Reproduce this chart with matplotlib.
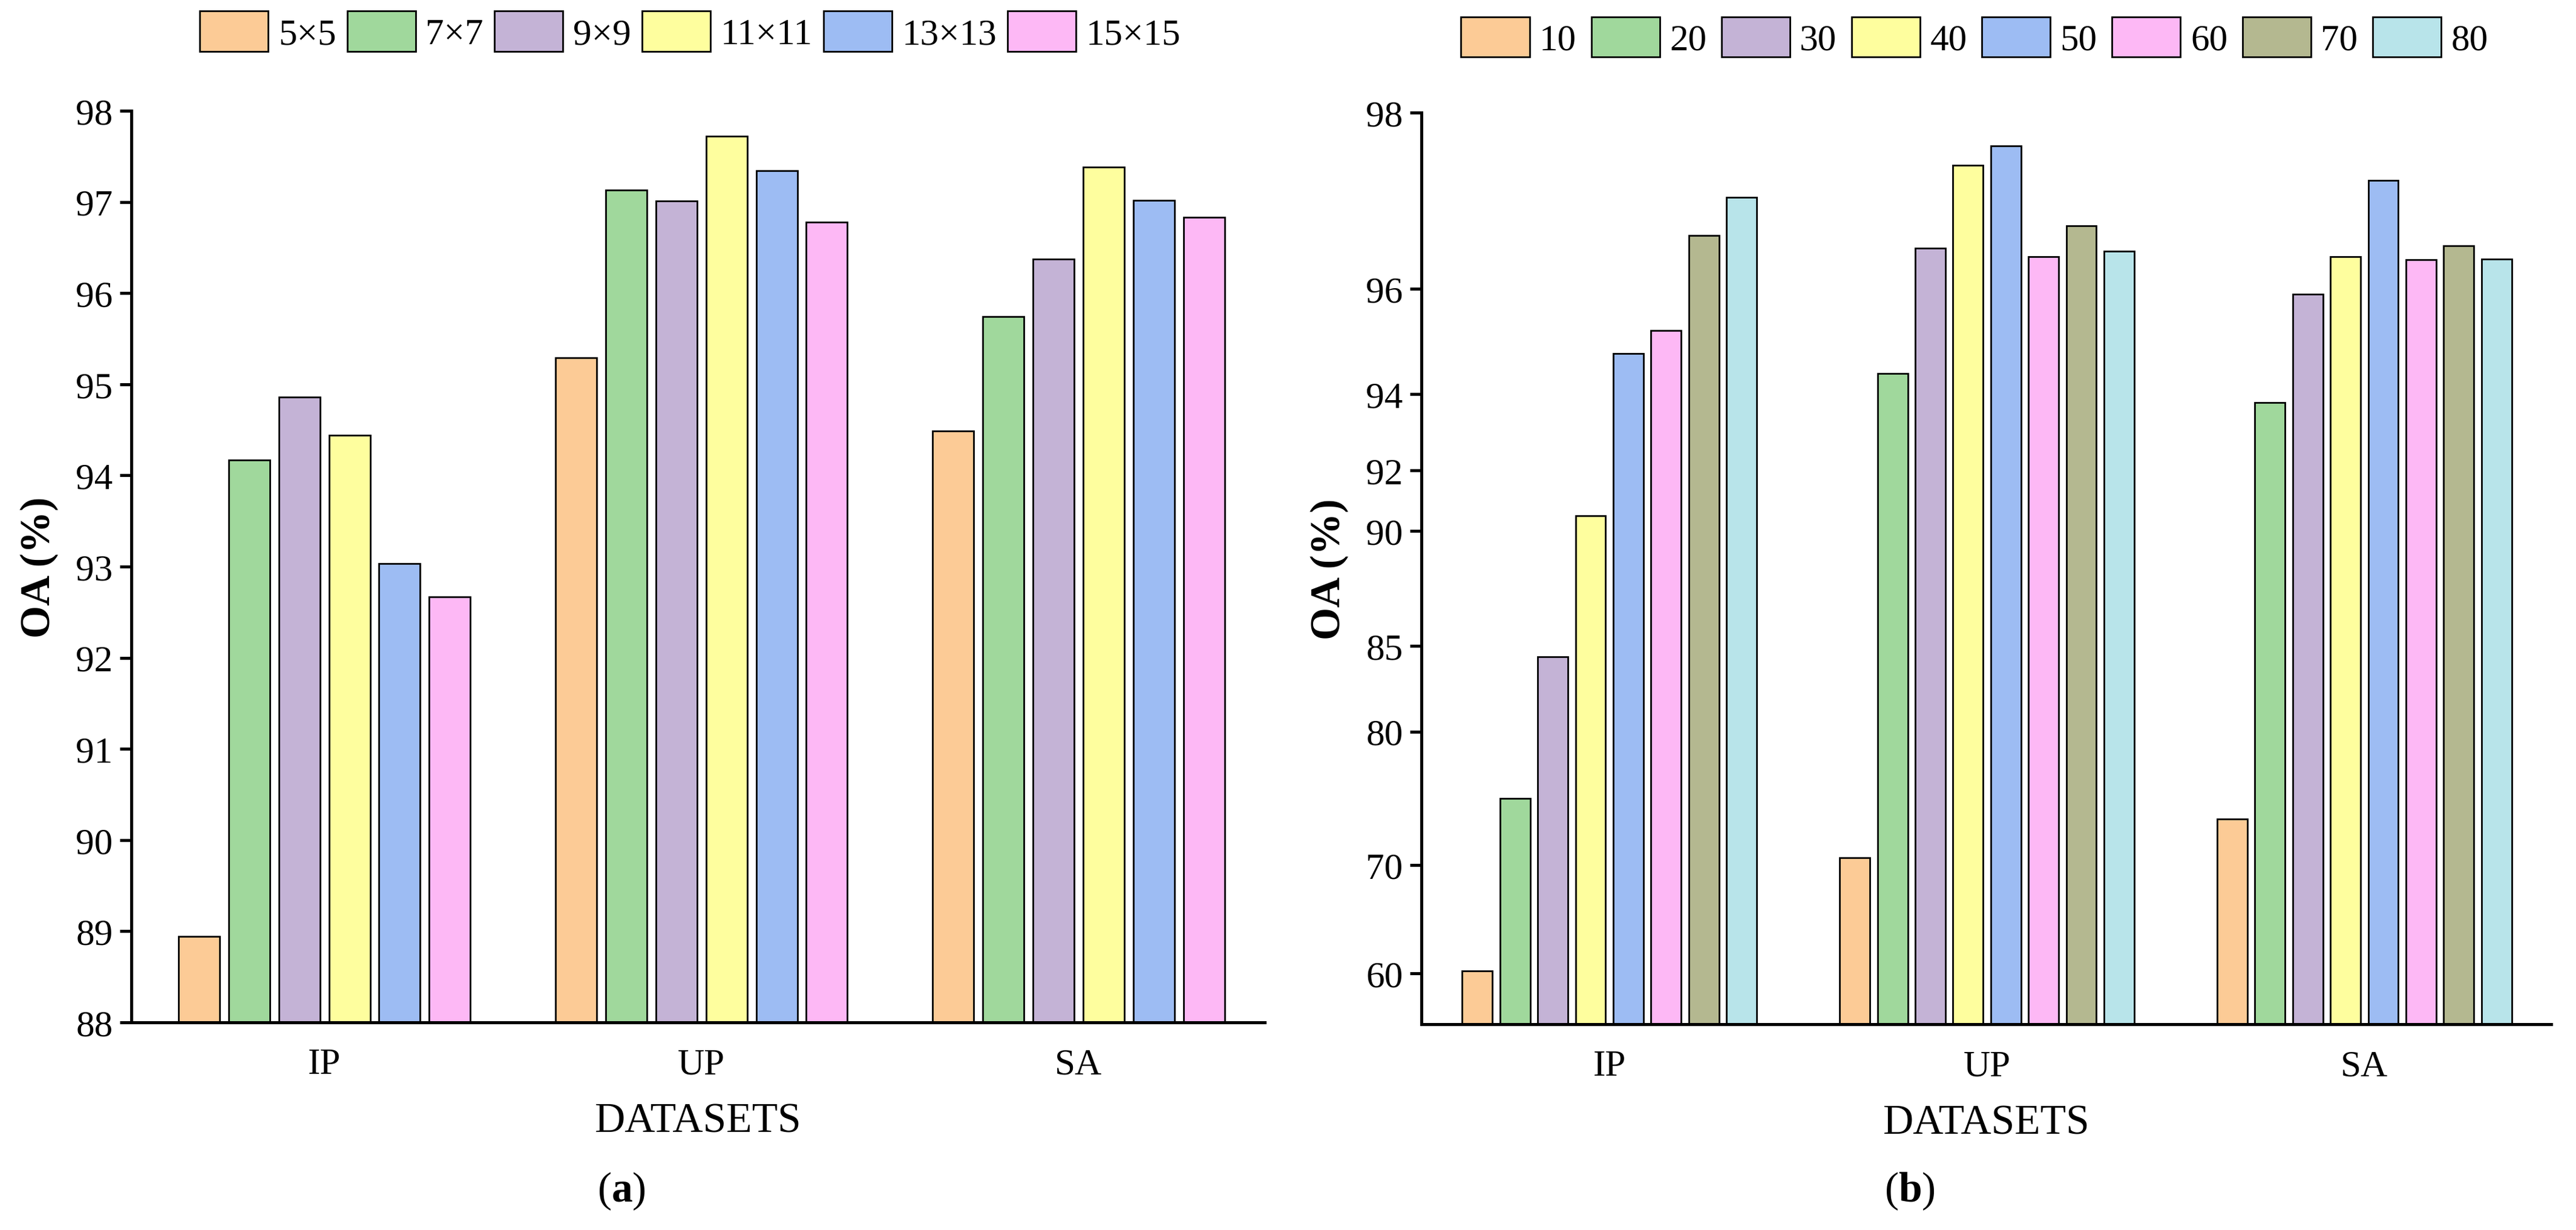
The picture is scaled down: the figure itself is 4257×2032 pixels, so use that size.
import numpy as np
import matplotlib
matplotlib.use('Agg')
import matplotlib.pyplot as plt

plt.rcParams['font.family'] = ['Liberation Serif', 'DejaVu Serif']
plt.rcParams['mathtext.fontset'] = 'custom'
plt.rcParams['mathtext.rm'] = 'Liberation Serif'
plt.rcParams['mathtext.bf'] = 'Liberation Serif:bold'

# datos
datasets = ['IP', 'UP', 'SA']

sizes = ['5×5', '7×7', '9×9', '11×11', '13×13', '15×15']
oa_sizes = [
    [88.94, 95.29, 94.49],   # 5x5
    [94.17, 97.13, 95.74],   # 7x7
    [94.86, 97.01, 96.37],   # 9x9
    [94.44, 97.72, 97.38],   # 11x11
    [93.03, 97.34, 97.02],   # 13x13
    [92.67, 96.78, 96.83],   # 15x15
]

ratios = ['10', '20', '30', '40', '50', '60', '70', '80']
oa_ratios = [
    [60.26, 70.54, 73.46],
    [74.98, 94.39, 93.78],
    [84.35, 96.46, 95.90],
    [90.51, 97.40, 96.37],
    [94.77, 97.62, 97.23],
    [95.21, 96.37, 96.33],
    [96.61, 96.72, 96.49],
    [97.04, 96.43, 96.34],
]

colores = ['#FCCB96', '#A0D89C', '#C4B3D6', '#FEFE9E', '#9DBCF3', '#FDB8F5',
           '#B4B890', '#B8E4EA']

# escala no lineal del eje y en (b)
yt_b = [60, 70, 80, 85, 90, 92, 94, 96, 98]
knot_v = np.array([55.3, 60, 70, 80, 85, 90, 92, 94, 96, 98])
knot_p = np.array([0, 83.6, 262.8, 483.5, 625.1, 814.8, 914.9, 1041.2, 1214.7, 1506.1])


def fwd(v):
    return np.interp(v, knot_v, knot_p)


def inv(p):
    return np.interp(p, knot_p, knot_v)


fig = plt.figure(figsize=(42.57, 20.33), dpi=100)
ax1 = fig.add_axes([0.051, 0.1687, 0.440, 0.7408])
ax2 = fig.add_axes([0.5518, 0.1672, 0.4386, 0.7408])

fs_tick = 44
fs_lab = 50


def estilo(ax):
    for s in ['top', 'right']:
        ax.spines[s].set_visible(False)
    for s in ['left', 'bottom']:
        ax.spines[s].set_linewidth(3.6)
    ax.tick_params(axis='y', length=14, width=3.6, labelsize=fs_tick, pad=8)
    ax.tick_params(axis='x', length=0, labelsize=fs_tick, pad=30)
    ax.set_xlabel('DATASETS', fontsize=fs_lab, labelpad=25)
    ax.set_ylabel('OA (%)', fontsize=fs_lab, fontweight='bold', labelpad=20)


x = np.arange(len(datasets))

# (a)
paso = 0.133
ancho = 0.109
for i, (lab, vals) in enumerate(zip(sizes, oa_sizes)):
    pos = x + (i - (len(sizes) - 1) / 2) * paso
    ax1.bar(pos, np.array(vals) - 88, bottom=88, width=ancho, color=colores[i],
            edgecolor='black', linewidth=2.0, label=lab)
ax1.set_ylim(88, 98)
ax1.set_yticks(range(88, 99))
ax1.set_xlim(-0.512, 2.494)
ax1.set_xticks(x)
ax1.set_xticklabels(datasets)
estilo(ax1)
ax1.legend(loc='center', bbox_to_anchor=(0.268, 0.974), bbox_transform=fig.transFigure,
           ncol=6, frameon=False, fontsize=fs_tick, handlelength=1.85, handleheight=1.3,
           handletextpad=0.27, columnspacing=0.3)

# (b)
ax2.set_yscale('function', functions=(fwd, inv))
paso = 0.1
ancho = 0.08
y0 = knot_v[0]
for i, (lab, vals) in enumerate(zip(ratios, oa_ratios)):
    pos = x + (i - (len(ratios) - 1) / 2) * paso
    ax2.bar(pos, np.array(vals) - y0, bottom=y0, width=ancho, color=colores[i],
            edgecolor='black', linewidth=2.0, label=lab)
ax2.set_ylim(y0, 98)
ax2.set_yticks(yt_b)
ax2.set_yticklabels([str(t) for t in yt_b])
ax2.minorticks_off()
ax2.set_xlim(-0.498, 2.495)
ax2.set_xticks(x)
ax2.set_xticklabels(datasets)
estilo(ax2)
ax2.legend(loc='center', bbox_to_anchor=(0.7665, 0.9695), bbox_transform=fig.transFigure,
           ncol=8, frameon=False, fontsize=fs_tick, handlelength=1.85, handleheight=1.3,
           handletextpad=0.27, columnspacing=0.4)

fig.text(0.2412, 1 - 1968 / 2033, r'($\mathbf{a}$)', fontsize=fs_lab, ha='center', va='center')
fig.text(0.7413, 1 - 1968 / 2033, r'($\mathbf{b}$)', fontsize=fs_lab, ha='center', va='center')

fig.savefig('out.png', dpi=100)
